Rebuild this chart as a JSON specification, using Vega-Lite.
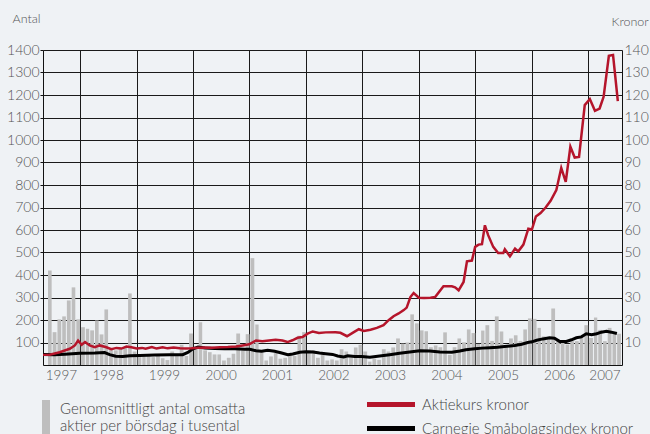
{
  "$schema": "https://vega.github.io/schema/vega-lite/v6.json",
  "width": 579,
  "height": 315,
  "autosize": {"type": "none"},
  "padding": {"left": 43, "top": 50, "right": 28, "bottom": 69},
  "background": "#eff2f5",
  "config": {
    "view": {"stroke": null},
    "font": "Lato",
    "axis": {"labelColor": "#555", "labelFontWeight": 300, "titleColor": "#555", "titleFontWeight": 300, "domainColor": "#111", "tickColor": "#111", "labelOverlap": false},
    "legend": {"labelColor": "#444", "labelFontWeight": 300, "labelFontSize": 15, "padding": 0, "labelLimit": 0}
  },
  "datasets": {
    "bars": [
      {"month": "1997-06-01", "antal": 420}, {"month": "1997-07-01", "antal": 146}, {"month": "1997-08-01", "antal": 203}, {"month": "1997-09-01", "antal": 216}, {"month": "1997-10-01", "antal": 287}, {"month": "1997-11-01", "antal": 345}, {"month": "1997-12-01", "antal": 203},
      {"month": "1998-01-01", "antal": 168}, {"month": "1998-02-01", "antal": 161}, {"month": "1998-03-01", "antal": 154}, {"month": "1998-04-01", "antal": 198}, {"month": "1998-05-01", "antal": 136}, {"month": "1998-06-01", "antal": 247}, {"month": "1998-07-01", "antal": 70}, {"month": "1998-08-01", "antal": 65}, {"month": "1998-09-01", "antal": 72}, {"month": "1998-10-01", "antal": 80}, {"month": "1998-11-01", "antal": 318}, {"month": "1998-12-01", "antal": 60},
      {"month": "1999-01-01", "antal": 35}, {"month": "1999-02-01", "antal": 38}, {"month": "1999-03-01", "antal": 40}, {"month": "1999-04-01", "antal": 35}, {"month": "1999-05-01", "antal": 45}, {"month": "1999-06-01", "antal": 30}, {"month": "1999-07-01", "antal": 22}, {"month": "1999-08-01", "antal": 60}, {"month": "1999-09-01", "antal": 42}, {"month": "1999-10-01", "antal": 90}, {"month": "1999-11-01", "antal": 40}, {"month": "1999-12-01", "antal": 140},
      {"month": "2000-01-01", "antal": 70}, {"month": "2000-02-01", "antal": 190}, {"month": "2000-03-01", "antal": 65}, {"month": "2000-04-01", "antal": 57}, {"month": "2000-05-01", "antal": 47}, {"month": "2000-06-01", "antal": 47}, {"month": "2000-07-01", "antal": 20}, {"month": "2000-08-01", "antal": 32}, {"month": "2000-09-01", "antal": 50}, {"month": "2000-10-01", "antal": 140}, {"month": "2000-11-01", "antal": 65}, {"month": "2000-12-01", "antal": 137},
      {"month": "2001-01-01", "antal": 475}, {"month": "2001-02-01", "antal": 180}, {"month": "2001-03-01", "antal": 65}, {"month": "2001-04-01", "antal": 20}, {"month": "2001-05-01", "antal": 38}, {"month": "2001-06-01", "antal": 53}, {"month": "2001-07-01", "antal": 28}, {"month": "2001-08-01", "antal": 32}, {"month": "2001-09-01", "antal": 45}, {"month": "2001-10-01", "antal": 40}, {"month": "2001-11-01", "antal": 130}, {"month": "2001-12-01", "antal": 146},
      {"month": "2002-01-01", "antal": 65}, {"month": "2002-02-01", "antal": 65}, {"month": "2002-03-01", "antal": 32}, {"month": "2002-04-01", "antal": 47}, {"month": "2002-05-01", "antal": 20}, {"month": "2002-06-01", "antal": 25}, {"month": "2002-07-01", "antal": 20}, {"month": "2002-08-01", "antal": 70}, {"month": "2002-09-01", "antal": 60}, {"month": "2002-10-01", "antal": 38}, {"month": "2002-11-01", "antal": 78}, {"month": "2002-12-01", "antal": 90},
      {"month": "2003-01-01", "antal": 60}, {"month": "2003-02-01", "antal": 15}, {"month": "2003-03-01", "antal": 28}, {"month": "2003-04-01", "antal": 23}, {"month": "2003-05-01", "antal": 70}, {"month": "2003-06-01", "antal": 60}, {"month": "2003-07-01", "antal": 78}, {"month": "2003-08-01", "antal": 118}, {"month": "2003-09-01", "antal": 95}, {"month": "2003-10-01", "antal": 100}, {"month": "2003-11-01", "antal": 225}, {"month": "2003-12-01", "antal": 185},
      {"month": "2004-01-01", "antal": 154}, {"month": "2004-02-01", "antal": 150}, {"month": "2004-03-01", "antal": 79}, {"month": "2004-04-01", "antal": 87}, {"month": "2004-05-01", "antal": 79}, {"month": "2004-06-01", "antal": 145}, {"month": "2004-07-01", "antal": 45}, {"month": "2004-08-01", "antal": 79}, {"month": "2004-09-01", "antal": 118}, {"month": "2004-10-01", "antal": 101}, {"month": "2004-11-01", "antal": 158}, {"month": "2004-12-01", "antal": 142},
      {"month": "2005-01-01", "antal": 94}, {"month": "2005-02-01", "antal": 153}, {"month": "2005-03-01", "antal": 177}, {"month": "2005-04-01", "antal": 107}, {"month": "2005-05-01", "antal": 216}, {"month": "2005-06-01", "antal": 149}, {"month": "2005-07-01", "antal": 79}, {"month": "2005-08-01", "antal": 118}, {"month": "2005-09-01", "antal": 132}, {"month": "2005-10-01", "antal": 107}, {"month": "2005-11-01", "antal": 158}, {"month": "2005-12-01", "antal": 207},
      {"month": "2006-01-01", "antal": 205}, {"month": "2006-02-01", "antal": 165}, {"month": "2006-03-01", "antal": 127}, {"month": "2006-04-01", "antal": 120}, {"month": "2006-05-01", "antal": 251}, {"month": "2006-06-01", "antal": 109}, {"month": "2006-07-01", "antal": 101}, {"month": "2006-08-01", "antal": 91}, {"month": "2006-09-01", "antal": 106}, {"month": "2006-10-01", "antal": 106}, {"month": "2006-11-01", "antal": 124}, {"month": "2006-12-01", "antal": 177},
      {"month": "2007-01-01", "antal": 120}, {"month": "2007-02-01", "antal": 211}, {"month": "2007-03-01", "antal": 156}, {"month": "2007-04-01", "antal": 106}, {"month": "2007-05-01", "antal": 165}, {"month": "2007-06-01", "antal": 146}, {"month": "2007-07-01", "antal": 139}
    ],
    "aktie": [
      {"date": "1997-05-06", "kr": 4.5}, {"date": "1997-06-18", "kr": 4.6}, {"date": "1997-08-22", "kr": 5.7}, {"date": "1997-10-26", "kr": 7.2}, {"date": "1997-11-28", "kr": 8.7}, {"date": "1997-12-19", "kr": 10.9},
      {"date": "1998-01-11", "kr": 9.0}, {"date": "1998-02-02", "kr": 10.2}, {"date": "1998-03-04", "kr": 8.7}, {"date": "1998-04-06", "kr": 7.9}, {"date": "1998-05-08", "kr": 8.7}, {"date": "1998-06-20", "kr": 7.9}, {"date": "1998-07-22", "kr": 7.0}, {"date": "1998-08-24", "kr": 7.6}, {"date": "1998-09-26", "kr": 7.3}, {"date": "1998-10-28", "kr": 8.2}, {"date": "1998-11-29", "kr": 7.9},
      {"date": "1999-01-02", "kr": 7.3}, {"date": "1999-02-06", "kr": 7.6}, {"date": "1999-03-01", "kr": 7.2}, {"date": "1999-04-10", "kr": 8.0}, {"date": "1999-05-11", "kr": 7.3}, {"date": "1999-06-19", "kr": 7.9}, {"date": "1999-07-21", "kr": 7.4}, {"date": "1999-08-29", "kr": 7.8}, {"date": "1999-10-08", "kr": 7.4}, {"date": "1999-11-16", "kr": 7.3}, {"date": "1999-12-24", "kr": 7.4},
      {"date": "2000-02-03", "kr": 7.7}, {"date": "2000-03-18", "kr": 7.8}, {"date": "2000-05-02", "kr": 7.7}, {"date": "2000-06-23", "kr": 7.9}, {"date": "2000-08-14", "kr": 8.0}, {"date": "2000-10-05", "kr": 8.2}, {"date": "2000-11-18", "kr": 8.7}, {"date": "2000-12-30", "kr": 9.2},
      {"date": "2001-02-12", "kr": 10.9}, {"date": "2001-03-25", "kr": 10.6}, {"date": "2001-05-07", "kr": 10.9}, {"date": "2001-06-19", "kr": 11.2}, {"date": "2001-08-02", "kr": 10.9}, {"date": "2001-09-04", "kr": 10.2}, {"date": "2001-10-06", "kr": 11.0}, {"date": "2001-11-08", "kr": 12.1}, {"date": "2001-12-10", "kr": 12.4},
      {"date": "2002-01-12", "kr": 13.9}, {"date": "2002-02-14", "kr": 14.9}, {"date": "2002-03-26", "kr": 14.2}, {"date": "2002-05-09", "kr": 14.5}, {"date": "2002-07-12", "kr": 14.6}, {"date": "2002-08-12", "kr": 14.3}, {"date": "2002-09-24", "kr": 12.8}, {"date": "2002-11-07", "kr": 14.6}, {"date": "2002-12-09", "kr": 15.9},
      {"date": "2003-01-11", "kr": 15.1}, {"date": "2003-02-23", "kr": 15.7}, {"date": "2003-04-05", "kr": 16.5}, {"date": "2003-05-18", "kr": 17.7}, {"date": "2003-06-20", "kr": 19.9}, {"date": "2003-07-22", "kr": 21.7}, {"date": "2003-08-24", "kr": 22.9}, {"date": "2003-09-26", "kr": 24.4}, {"date": "2003-10-15", "kr": 25.5}, {"date": "2003-11-08", "kr": 30.2}, {"date": "2003-11-29", "kr": 32.0},
      {"date": "2004-01-02", "kr": 29.9}, {"date": "2004-02-04", "kr": 29.8}, {"date": "2004-03-17", "kr": 29.9}, {"date": "2004-04-16", "kr": 30.2}, {"date": "2004-06-09", "kr": 35.0}, {"date": "2004-08-02", "kr": 35.0}, {"date": "2004-08-23", "kr": 34.5}, {"date": "2004-09-15", "kr": 33.2}, {"date": "2004-10-17", "kr": 36.9}, {"date": "2004-11-08", "kr": 46.1}, {"date": "2004-12-10", "kr": 46.4}, {"date": "2004-12-31", "kr": 52.5},
      {"date": "2005-01-22", "kr": 53.5}, {"date": "2005-02-13", "kr": 53.7}, {"date": "2005-03-04", "kr": 62.1}, {"date": "2005-03-25", "kr": 57.7}, {"date": "2005-04-27", "kr": 52.5}, {"date": "2005-05-29", "kr": 49.8}, {"date": "2005-07-01", "kr": 49.8}, {"date": "2005-07-11", "kr": 51.4}, {"date": "2005-08-13", "kr": 48.3}, {"date": "2005-09-15", "kr": 51.7}, {"date": "2005-10-06", "kr": 50.5}, {"date": "2005-11-08", "kr": 53.5}, {"date": "2005-12-10", "kr": 60.6},
      {"date": "2006-01-02", "kr": 60.2}, {"date": "2006-01-28", "kr": 66.0}, {"date": "2006-02-27", "kr": 67.5}, {"date": "2006-04-01", "kr": 70.0}, {"date": "2006-05-03", "kr": 73.0}, {"date": "2006-06-09", "kr": 77.7}, {"date": "2006-07-11", "kr": 87.6}, {"date": "2006-08-09", "kr": 81.4}, {"date": "2006-09-08", "kr": 97.0}, {"date": "2006-10-06", "kr": 92.2}, {"date": "2006-11-03", "kr": 92.5}, {"date": "2006-12-10", "kr": 115.5},
      {"date": "2007-01-12", "kr": 118.2}, {"date": "2007-02-14", "kr": 113.0}, {"date": "2007-03-16", "kr": 114.0}, {"date": "2007-04-11", "kr": 119.2}, {"date": "2007-05-15", "kr": 137.4}, {"date": "2007-06-11", "kr": 137.8}, {"date": "2007-07-12", "kr": 117.3}
    ],
    "carnegie": [
      {"date": "1997-05-06", "kr": 4.7}, {"date": "1997-07-20", "kr": 4.6}, {"date": "1997-09-24", "kr": 4.8}, {"date": "1997-12-29", "kr": 5.2},
      {"date": "1998-04-06", "kr": 5.3}, {"date": "1998-06-09", "kr": 5.5}, {"date": "1998-07-11", "kr": 4.6}, {"date": "1998-08-19", "kr": 3.9}, {"date": "1998-10-04", "kr": 3.8}, {"date": "1998-11-18", "kr": 4.1},
      {"date": "1999-01-23", "kr": 4.2}, {"date": "1999-04-28", "kr": 4.4}, {"date": "1999-08-04", "kr": 4.6}, {"date": "1999-10-27", "kr": 4.6}, {"date": "1999-11-29", "kr": 5.6},
      {"date": "2000-01-01", "kr": 7.2}, {"date": "2000-02-03", "kr": 8.0}, {"date": "2000-03-18", "kr": 7.6}, {"date": "2000-05-21", "kr": 7.3}, {"date": "2000-07-25", "kr": 7.2}, {"date": "2000-09-29", "kr": 7.2}, {"date": "2000-12-02", "kr": 7.0},
      {"date": "2001-01-03", "kr": 7.0}, {"date": "2001-02-12", "kr": 6.3}, {"date": "2001-03-20", "kr": 6.1}, {"date": "2001-04-28", "kr": 6.5}, {"date": "2001-06-13", "kr": 6.1}, {"date": "2001-07-28", "kr": 5.3}, {"date": "2001-09-06", "kr": 4.6}, {"date": "2001-10-08", "kr": 4.9}, {"date": "2001-11-22", "kr": 5.7},
      {"date": "2002-01-01", "kr": 5.9}, {"date": "2002-02-16", "kr": 5.8}, {"date": "2002-03-30", "kr": 5.3}, {"date": "2002-05-09", "kr": 5.0}, {"date": "2002-06-23", "kr": 4.7}, {"date": "2002-07-25", "kr": 4.0}, {"date": "2002-09-03", "kr": 3.6}, {"date": "2002-09-29", "kr": 4.1}, {"date": "2002-11-13", "kr": 3.8}, {"date": "2002-12-28", "kr": 3.8},
      {"date": "2003-02-19", "kr": 3.5}, {"date": "2003-04-23", "kr": 4.0}, {"date": "2003-06-27", "kr": 4.6}, {"date": "2003-08-30", "kr": 5.2}, {"date": "2003-11-04", "kr": 5.8},
      {"date": "2004-01-08", "kr": 6.3}, {"date": "2004-03-12", "kr": 6.2}, {"date": "2004-05-16", "kr": 5.8}, {"date": "2004-08-02", "kr": 5.7}, {"date": "2004-09-23", "kr": 6.2}, {"date": "2004-11-01", "kr": 6.8}, {"date": "2004-12-29", "kr": 7.2},
      {"date": "2005-02-13", "kr": 7.5}, {"date": "2005-04-04", "kr": 7.7}, {"date": "2005-05-25", "kr": 7.9}, {"date": "2005-07-09", "kr": 8.2}, {"date": "2005-09-13", "kr": 8.7}, {"date": "2005-10-28", "kr": 9.2}, {"date": "2005-12-06", "kr": 10.0},
      {"date": "2006-01-02", "kr": 10.3}, {"date": "2006-02-02", "kr": 11.0}, {"date": "2006-03-14", "kr": 11.6}, {"date": "2006-04-26", "kr": 12.1}, {"date": "2006-05-28", "kr": 11.9}, {"date": "2006-06-30", "kr": 10.5}, {"date": "2006-08-13", "kr": 10.5}, {"date": "2006-09-15", "kr": 11.2}, {"date": "2006-10-17", "kr": 12.1}, {"date": "2006-11-18", "kr": 12.5}, {"date": "2006-12-20", "kr": 13.9},
      {"date": "2007-01-23", "kr": 13.5}, {"date": "2007-02-25", "kr": 13.9}, {"date": "2007-03-27", "kr": 14.6}, {"date": "2007-04-29", "kr": 15.0}, {"date": "2007-05-31", "kr": 14.6}, {"date": "2007-07-06", "kr": 14.0}
    ],
    "years": [
      {"date": "1997-09-02", "year": "1997"}, {"date": "1998-07-01", "year": "1998"}, {"date": "1999-07-01", "year": "1999"}, {"date": "2000-07-01", "year": "2000"}, {"date": "2001-07-01", "year": "2001"}, {"date": "2002-07-01", "year": "2002"}, {"date": "2003-07-01", "year": "2003"}, {"date": "2004-07-01", "year": "2004"}, {"date": "2005-07-01", "year": "2005"}, {"date": "2006-07-01", "year": "2006"}, {"date": "2007-04-20", "year": "2007"}
    ]
  },
  "layer": [
    {
      "data": {"name": "bars"},
      "mark": {"type": "bar", "timeUnitBandSize": 0.85},
      "encoding": {
        "x": {
          "field": "month", "timeUnit": "utcyearmonth", "type": "temporal",
          "scale": {"type": "utc", "nice": false, "domain": [{"year": 1997, "month": 5, "date": 6, "utc": true}, {"year": 2007, "month": 8, "date": 8, "utc": true}]},
          "axis": {"grid": true, "gridColor": "#1a1a1a", "gridWidth": 1, "tickCount": {"interval": "year", "step": 1}, "labels": false, "ticks": false, "domain": true, "title": null}
        },
        "y": {
          "field": "antal", "type": "quantitative",
          "scale": {"domain": [0, 1400], "nice": false},
          "axis": {"orient": "left", "format": "d", "values": [100, 200, 300, 400, 500, 600, 700, 800, 900, 1000, 1100, 1200, 1300, 1400], "labelOverlap": false, "grid": true, "gridColor": "#1a1a1a", "gridWidth": 1, "tickSize": 3, "labelPadding": 1, "labelFontSize": 14, "title": "Antal", "titleAngle": 0, "titleX": -31, "titleY": -32, "titleAlign": "left", "titleBaseline": "middle", "titleFontSize": 12.5}
        },
        "fill": {
          "datum": "Genomsnittligt antal omsatta aktier per börsdag i tusental",
          "scale": {"range": ["#bebebe"]},
          "legend": {"orient": "none", "legendX": -14, "legendY": 342, "title": null, "symbolType": "M-0.235,-0.53 h0.47 v2 h-0.47 Z", "symbolSize": 1156, "symbolStrokeWidth": 0, "labelOffset": -3, "labelExpr": "['Genomsnittligt antal omsatta', 'aktier per börsdag i tusental']"}
        }
      }
    },
    {
      "data": {"name": "years"},
      "mark": {"type": "text", "align": "center", "baseline": "middle", "dy": 11, "fontSize": 13.5, "fontWeight": 300, "color": "#555"},
      "encoding": {
        "x": {"field": "date", "type": "temporal", "scale": {"type": "utc"}},
        "y": {"datum": 0, "type": "quantitative", "scale": {"domain": [0, 1400], "nice": false}, "axis": null},
        "text": {"field": "year"}
      }
    },
    {
      "encoding": {
        "x": {"field": "date", "type": "temporal", "scale": {"type": "utc"}},
        "y": {
          "field": "kr", "type": "quantitative",
          "scale": {"domain": [0, 140], "nice": false},
          "axis": {"orient": "right", "values": [10, 20, 30, 40, 50, 60, 70, 80, 90, 100, 110, 120, 130, 140], "labelOverlap": false, "grid": false, "ticks": false, "labelPadding": 2, "labelFontSize": 14, "title": "Kronor", "titleAngle": 0, "titleX": -11, "titleY": -29, "titleAlign": "left", "titleBaseline": "middle", "titleFontSize": 12.5}
        }
      },
      "layer": [
        {
          "data": {"name": "carnegie"},
          "mark": {"type": "line", "strokeWidth": 3},
          "encoding": {
            "stroke": {
              "datum": "Carnegie Småbolagsindex kronor",
              "scale": {"domain": ["Aktiekurs kronor", "Carnegie Småbolagsindex kronor"], "range": ["#b5152b", "#000000"]},
              "legend": {"orient": "none", "legendX": 340.5, "legendY": 347, "title": null, "symbolType": "M-4.8,0 H4.8", "symbolSize": 100, "symbolStrokeWidth": 5, "labelOffset": 23.5, "rowPadding": 3}
            }
          }
        },
        {
          "data": {"name": "aktie"},
          "mark": {"type": "line", "strokeWidth": 2.5},
          "encoding": {
            "stroke": {"datum": "Aktiekurs kronor"}
          }
        }
      ]
    }
  ],
  "resolve": {"scale": {"y": "independent"}}
}
